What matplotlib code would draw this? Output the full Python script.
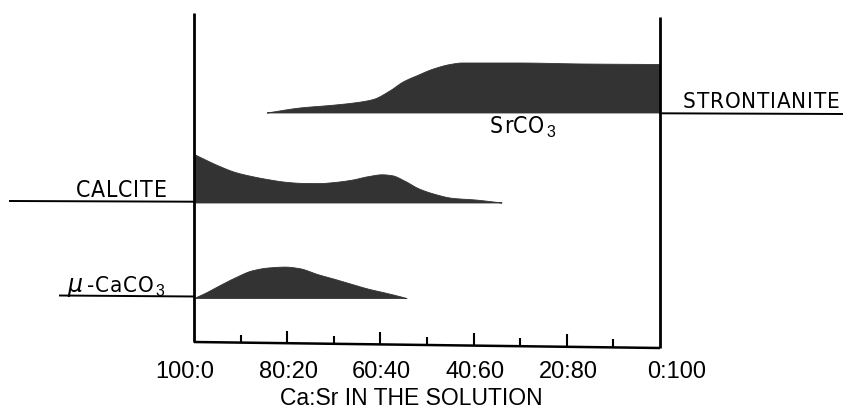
import numpy as np
import matplotlib
matplotlib.use("Agg")
import matplotlib.pyplot as plt
from matplotlib import font_manager
from matplotlib.font_manager import FontProperties

# ---- data: Sr share in solution (%) vs. relative amount (band height) ----
sr_x = [15.6, 22.7, 29.8, 35.0, 38.4, 42.1, 44.8, 47.9, 51.3, 54.9, 57.5, 69.3, 83.5, 100.0]
sr_h = [0, 5, 7.8, 10.5, 13.5, 22.5, 31, 37.5, 44, 48.5, 50, 50, 49, 48.5]

calcite_x = [0, 5.2, 8.8, 12.4, 15.9, 19.5, 23.1, 26.7, 30.3, 33.8, 37.4,
             40.3, 42.4, 45.3, 48.1, 51.7, 55.3, 60.3, 66.0]
calcite_h = [48.4, 37, 30.5, 26.4, 23.3, 20.8, 19.6, 19.4, 20.6, 22.8, 26.4,
             28.2, 27.3, 21.5, 14.3, 8.5, 4.7, 3, 0]

mu_x = [0, 2.4, 5.2, 8.8, 12.4, 15.9, 19.5, 22.4, 26.7, 30.3, 33.8, 37.3, 41.0, 43.8, 45.6]
mu_h = [0, 5.2, 12.1, 20.6, 27.6, 30.5, 31.4, 30, 23.6, 18.9, 14.1, 9.4, 5.4, 2.2, 0]

tick_vals = [10, 20, 30, 40, 50, 60, 70, 80, 90]
major_ticks = [20, 40, 60, 80]
tick_labels = ["100:0", "80:20", "60:40", "40:60", "20:80", "0:100"]
label_vals = [0, 20, 40, 60, 80, 100]

# ---- layout (pixel-based vertical coordinates) ----
PX_PER_PCT = 4.66
X0_PX = 194
W, H = 843, 409
BASE_SR, BASE_CAL, BASE_MU = 112.5, 202.5, 298
FILL = "#333333"

font = "Liberation Sans"

# look for an installed condensed / narrow sans face
cond = [f for f in font_manager.fontManager.ttflist
        if ("Narrow" in f.name or "Condensed" in f.name or "Condensed" in f.fname
            or "Narrow" in f.fname or str(f.stretch) in ("condensed", "semi-condensed", "400", "300"))
        and f.style == "normal" and f.weight in (400, "normal", "regular")]
cond.sort(key=lambda f: (0 if "Liberation" in f.name else 1 if "DejaVu" in f.fname else 2))
narrow_prop = FontProperties(fname=cond[0].fname) if cond else FontProperties(family=font)
has_narrow = bool(cond)


def px(p):
    return (p - X0_PX) / PX_PER_PCT


def pchip(x, y, n=400):
    x = np.asarray(x, float)
    y = np.asarray(y, float)
    h = np.diff(x)
    d = np.diff(y) / h
    m = np.zeros_like(y)
    for k in range(1, len(x) - 1):
        if d[k - 1] * d[k] > 0:
            w1 = 2 * h[k] + h[k - 1]
            w2 = h[k] + 2 * h[k - 1]
            m[k] = (w1 + w2) / (w1 / d[k - 1] + w2 / d[k])
    m[0] = d[0]
    m[-1] = d[-1]
    xs = np.linspace(x[0], x[-1], n)
    idx = np.clip(np.searchsorted(x, xs) - 1, 0, len(x) - 2)
    t = (xs - x[idx]) / h[idx]
    h00 = 2 * t ** 3 - 3 * t ** 2 + 1
    h10 = t ** 3 - 2 * t ** 2 + t
    h01 = -2 * t ** 3 + 3 * t ** 2
    h11 = t ** 3 - t ** 2
    ys = h00 * y[idx] + h10 * h[idx] * m[idx] + h01 * y[idx + 1] + h11 * h[idx] * m[idx + 1]
    return xs, np.clip(ys, 0, None)


fig = plt.figure(figsize=(W / 100, H / 100), dpi=100)
ax = fig.add_axes([0, 0, 1, 1])
ax.set_xlim(px(0), px(W))
ax.set_ylim(H, 0)
ax.axis("off")
renderer = fig.canvas.get_renderer()


def tracked(s, left_px, right_px, y, fs):
    prop = narrow_prop.copy()
    prop.set_size(fs)
    widths = [renderer.get_text_width_height_descent(ch, prop, ismath=False)[0] for ch in s]
    gap = (right_px - left_px - sum(widths)) / max(len(s) - 1, 1)
    gap = max(gap, 0.8)
    x = left_px
    for ch, w in zip(s, widths):
        ax.text(px(x), y, ch, ha="left", va="baseline", fontproperties=prop)
        x += w + gap
    return x - gap


for xs, hs, base in [(sr_x, sr_h, BASE_SR), (calcite_x, calcite_h, BASE_CAL), (mu_x, mu_h, BASE_MU)]:
    sx, sh = pchip(xs, hs)
    ax.fill_between(sx, base, base - sh, color=FILL, lw=0.6, edgecolor=FILL)

# frame
ax.plot([0, 0], [13, 342], color="black", lw=2.0, solid_capstyle="butt")
ax.plot([100, 100], [17, 348], color="black", lw=2.0, solid_capstyle="butt")
ax.plot([0, 100], [342, 348], color="black", lw=1.8, solid_capstyle="butt")

for t in tick_vals:
    yb = 342 + 6 * t / 100
    ln = 12.5 if t in major_ticks else 8
    ax.plot([t, t], [yb, yb - ln], color="black", lw=1.5, solid_capstyle="butt")

# label lines
ax.plot([px(10), 0], [201, 201.7], color="black", lw=1.4)
ax.plot([px(60), 0], [295.5, 296.5], color="black", lw=1.4)
ax.plot([100, px(843)], [113.3, 114], color="black", lw=1.4)

lab_fs = 16 if has_narrow else 14.5
tracked("STRONTIANITE", 683, 833, 108, lab_fs)
tracked("CALCITE", 76, 165, 196.7, lab_fs + 0.5)
ax.text(px(67), 292, r"$\mu$", fontsize=17, ha="left", va="baseline")
end = tracked("-CaCO", 87, 153, 292, lab_fs)
ax.text(px(end + 2), 295.5, "3", fontsize=11.5, family=font, ha="left", va="baseline")
end = tracked("SrCO", 490, 539, 133, lab_fs + 0.5)
ax.text(px(end + 2), 137, "3", fontsize=11.5, family=font, ha="left", va="baseline")

label_px = [185, 288, 381, 475, 568, 677]
for v, lab, lp in zip(label_vals, tick_labels, label_px):
    ax.text(px(lp), 378, lab, fontsize=17, family=font, ha="center", va="baseline")

ax.text(px(411), 405, "Ca:Sr IN THE SOLUTION", fontsize=16.5, family=font, ha="center", va="baseline")

fig.savefig("out.png", dpi=100)
